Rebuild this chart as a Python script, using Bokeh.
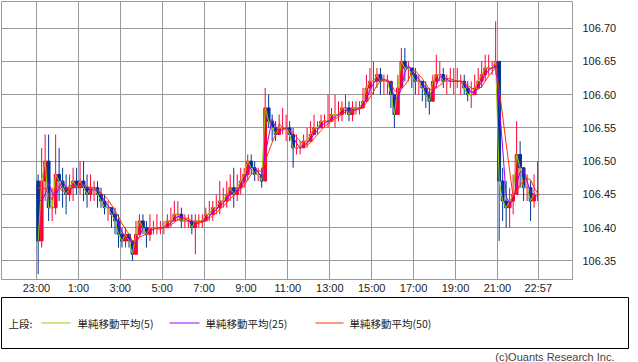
import pandas as pd
from bokeh.plotting import figure
from bokeh.models import Range1d, FixedTicker, Title, ColumnDataSource, NumeralTickFormatter
from bokeh.core.properties import value
from bokeh.embed import file_html
from bokeh.resources import INLINE

# ---------------- data ----------------
bar_minutes = 10
x_tick_labels = ["23:00", "1:00", "3:00", "5:00", "7:00", "9:00", "11:00",
                 "13:00", "15:00", "17:00", "19:00", "21:00", "22:57"]
y_ticks = [106.35, 106.40, 106.45, 106.50, 106.55, 106.60, 106.65, 106.70]

pre_close = [106.48, 106.49, 106.48, 106.48, 106.47]

close = [
    106.38, 106.47, 106.50, 106.43, 106.43, 106.48, 106.47, 106.46, 106.45, 106.46,
    106.47, 106.46, 106.47, 106.46, 106.45, 106.46, 106.46, 106.45, 106.44, 106.43,
    106.43, 106.42, 106.41, 106.39, 106.38, 106.39, 106.38, 106.36, 106.39, 106.41,
    106.40, 106.39, 106.40, 106.40, 106.40, 106.40, 106.40, 106.41, 106.41, 106.42,
    106.42, 106.41, 106.41, 106.41, 106.40, 106.41, 106.41, 106.41, 106.42, 106.42,
    106.43, 106.43, 106.44, 106.44, 106.45, 106.46, 106.45, 106.46, 106.47, 106.48,
    106.50, 106.49, 106.48, 106.48, 106.47, 106.58, 106.56, 106.55, 106.54, 106.55,
    106.55, 106.55, 106.54, 106.52, 106.52, 106.52, 106.53, 106.53, 106.54, 106.55,
    106.55, 106.56, 106.56, 106.56, 106.57, 106.57, 106.57, 106.58, 106.58, 106.57,
    106.58, 106.58, 106.58, 106.59, 106.61, 106.62, 106.62, 106.63, 106.62, 106.62,
    106.62, 106.60, 106.57, 106.61, 106.65, 106.64, 106.64, 106.63, 106.62, 106.62,
    106.61, 106.60, 106.59, 106.62, 106.63, 106.63, 106.62, 106.62, 106.62, 106.62,
    106.62, 106.62, 106.61, 106.60, 106.60, 106.61, 106.62, 106.63, 106.64, 106.64,
    106.64, 106.65, 106.47, 106.44, 106.43, 106.44, 106.45, 106.51, 106.49, 106.46,
    106.46, 106.44, 106.45, 106.45]

high = [
    106.48, 106.52, 106.54, 106.54, 106.46, 106.54, 106.52, 106.49, 106.48, 106.48,
    106.49, 106.49, 106.50, 106.50, 106.48, 106.48, 106.47, 106.47, 106.46, 106.45,
    106.44, 106.43, 106.43, 106.42, 106.40, 106.40, 106.39, 106.38, 106.41, 106.42,
    106.42, 106.41, 106.42, 106.41, 106.42, 106.41, 106.41, 106.42, 106.43, 106.44,
    106.44, 106.43, 106.42, 106.42, 106.42, 106.42, 106.42, 106.42, 106.43, 106.44,
    106.44, 106.45, 106.47, 106.46, 106.47, 106.48, 106.49, 106.48, 106.49, 106.49,
    106.51, 106.51, 106.50, 106.49, 106.49, 106.61, 106.60, 106.57, 106.56, 106.57,
    106.58, 106.57, 106.56, 106.55, 106.54, 106.53, 106.54, 106.55, 106.56, 106.57,
    106.56, 106.57, 106.57, 106.60, 106.58, 106.60, 106.59, 106.59, 106.60, 106.59,
    106.59, 106.59, 106.59, 106.61, 106.63, 106.64, 106.65, 106.64, 106.64, 106.63,
    106.63, 106.62, 106.60, 106.63, 106.67, 106.67, 106.65, 106.64, 106.64, 106.63,
    106.62, 106.62, 106.61, 106.63, 106.66, 106.65, 106.64, 106.63, 106.64, 106.64,
    106.64, 106.63, 106.63, 106.62, 106.62, 106.63, 106.64, 106.65, 106.66, 106.66,
    106.65, 106.71, 106.65, 106.49, 106.47, 106.46, 106.48, 106.56, 106.53, 106.49,
    106.48, 106.47, 106.48, 106.50]

low = [
    106.33, 106.37, 106.44, 106.41, 106.41, 106.42, 106.44, 106.43, 106.42, 106.44,
    106.44, 106.45, 106.45, 106.44, 106.43, 106.44, 106.44, 106.43, 106.43, 106.42,
    106.41, 106.40, 106.39, 106.37, 106.37, 106.37, 106.37, 106.35, 106.36, 106.39,
    106.39, 106.37, 106.38, 106.39, 106.39, 106.39, 106.39, 106.40, 106.40, 106.41,
    106.41, 106.40, 106.40, 106.40, 106.39, 106.36, 106.40, 106.40, 106.41, 106.41,
    106.41, 106.42, 106.42, 106.43, 106.43, 106.44, 106.43, 106.44, 106.45, 106.46,
    106.47, 106.48, 106.47, 106.47, 106.46, 106.47, 106.55, 106.53, 106.53, 106.54,
    106.54, 106.53, 106.53, 106.49, 106.51, 106.51, 106.52, 106.52, 106.53, 106.54,
    106.54, 106.55, 106.55, 106.55, 106.56, 106.55, 106.56, 106.56, 106.57, 106.56,
    106.56, 106.57, 106.57, 106.58, 106.59, 106.60, 106.60, 106.61, 106.60, 106.60,
    106.60, 106.58, 106.55, 106.57, 106.61, 106.62, 106.62, 106.61, 106.60, 106.60,
    106.59, 106.58, 106.57, 106.59, 106.61, 106.62, 106.61, 106.60, 106.61, 106.60,
    106.61, 106.60, 106.60, 106.59, 106.58, 106.60, 106.61, 106.61, 106.62, 106.63,
    106.63, 106.63, 106.38, 106.41, 106.40, 106.40, 106.42, 106.45, 106.46, 106.44,
    106.44, 106.41, 106.43, 106.44]

ma_periods = [5, 25, 50]
ma_names = ["単純移動平均(5)", "単純移動平均(25)", "単純移動平均(50)"]
ma_colors = ["#99CC00", "#9900FF", "#FF3300"]
legend_title = "上段:"
copyright_text = "(c)Ouants Research Inc."

up_color = "#FF0033"
down_color = "#003399"
grid_color = "#999999"
text_color = "#222222"


def minutes_from_start(lbl):
    h, m = map(int, lbl.split(":"))
    h0, m0 = map(int, x_tick_labels[0].split(":"))
    return ((h - h0) % 24) * 60 + (m - m0)


# ---------------- derived ----------------
n = len(close)
t = [i * bar_minutes + bar_minutes / 2 for i in range(n)]
opens = [pre_close[-1]] + close[:-1]
top = [max(o, c) for o, c in zip(opens, close)]
bottom = [min(o, c) for o, c in zip(opens, close)]
colors = [up_color if c >= o else down_color for o, c in zip(opens, close)]
src = ColumnDataSource(dict(t=t, high=high, low=low, top=top, bottom=bottom, color=colors))

series = pd.Series(pre_close + close)
ma_values = []
for per in ma_periods:
    w = max(1, int(per / bar_minutes + 0.5))
    ma_values.append(list(series.rolling(w, min_periods=1).mean().iloc[len(pre_close):]))

x_ticks = [minutes_from_start(l) for l in x_tick_labels]

# ---------------- main chart ----------------
p = figure(width=630, height=296, output_backend="svg", toolbar_location=None,
           x_range=Range1d(-100, 1535), y_range=Range1d(106.322, 106.740),
           y_axis_location="right",
           min_border_left=1, min_border_top=1, min_border_right=58, min_border_bottom=0)
p.background_fill_color = "white"
p.border_fill_color = "white"
p.outline_line_color = grid_color
p.outline_line_width = 1

p.xaxis.ticker = FixedTicker(ticks=x_ticks)
p.xaxis.major_label_overrides = {x: l for x, l in zip(x_ticks, x_tick_labels)}
p.yaxis.ticker = FixedTicker(ticks=y_ticks)
p.yaxis.formatter = NumeralTickFormatter(format="0.00")
p.xaxis.major_label_standoff = 2
p.yaxis.major_label_standoff = 10
for ax in (p.xaxis, p.yaxis):
    ax.axis_line_color = None
    ax.major_tick_line_color = None
    ax.minor_tick_line_color = None
    ax.major_tick_out = 0
    ax.major_label_text_font = "Liberation Sans"
    ax.major_label_text_font_size = "11px"
    ax.major_label_text_color = text_color
p.grid.grid_line_color = grid_color
p.grid.grid_line_width = 1

p.segment(x0="t", y0="low", x1="t", y1="high", color="color", line_width=1, source=src)
p.vbar(x="t", width=bar_minutes * 0.8, top="top", bottom="bottom",
       fill_color="color", line_color="color", line_width=1, source=src)

for vals, col in zip(ma_values, ma_colors):
    p.line(t, vals, line_color=col, line_width=1)

# ---------------- legend box ----------------
lg = figure(width=630, height=66, output_backend="svg", toolbar_location=None,
            x_range=Range1d(0, 627), y_range=Range1d(0, 50),
            x_axis_type=None, y_axis_type=None,
            min_border_left=1, min_border_right=2, min_border_top=1, min_border_bottom=0)
lg.grid.visible = False
lg.outline_line_color = "black"
lg.outline_line_width = 1
lg.add_layout(Title(text=copyright_text, align="right", text_font="Liberation Sans",
                    text_font_size="11px", text_font_style="normal", text_color="#444444",
                    offset=14, standoff=0), "below")

lg.text(x=[7], y=[25], text=[legend_title], text_font=value("Noto Sans CJK JP"),
        text_font_size="10.5px", text_baseline="middle", text_align="left", text_color=text_color)
line_x0 = [40, 168, 314]
line_x1 = [69, 198, 342]
text_x = [76, 204, 348]
lg.segment(x0=line_x0, x1=line_x1, y0=[25] * 3, y1=[25] * 3, line_color=ma_colors, line_width=1)
lg.text(x=text_x, y=[25] * 3, text=ma_names, text_font=value("Noto Sans CJK JP"),
        text_font_size="10.5px", text_baseline="middle", text_align="left", text_color=text_color)

open("out.html", "w").write(file_html([p, lg], INLINE))
